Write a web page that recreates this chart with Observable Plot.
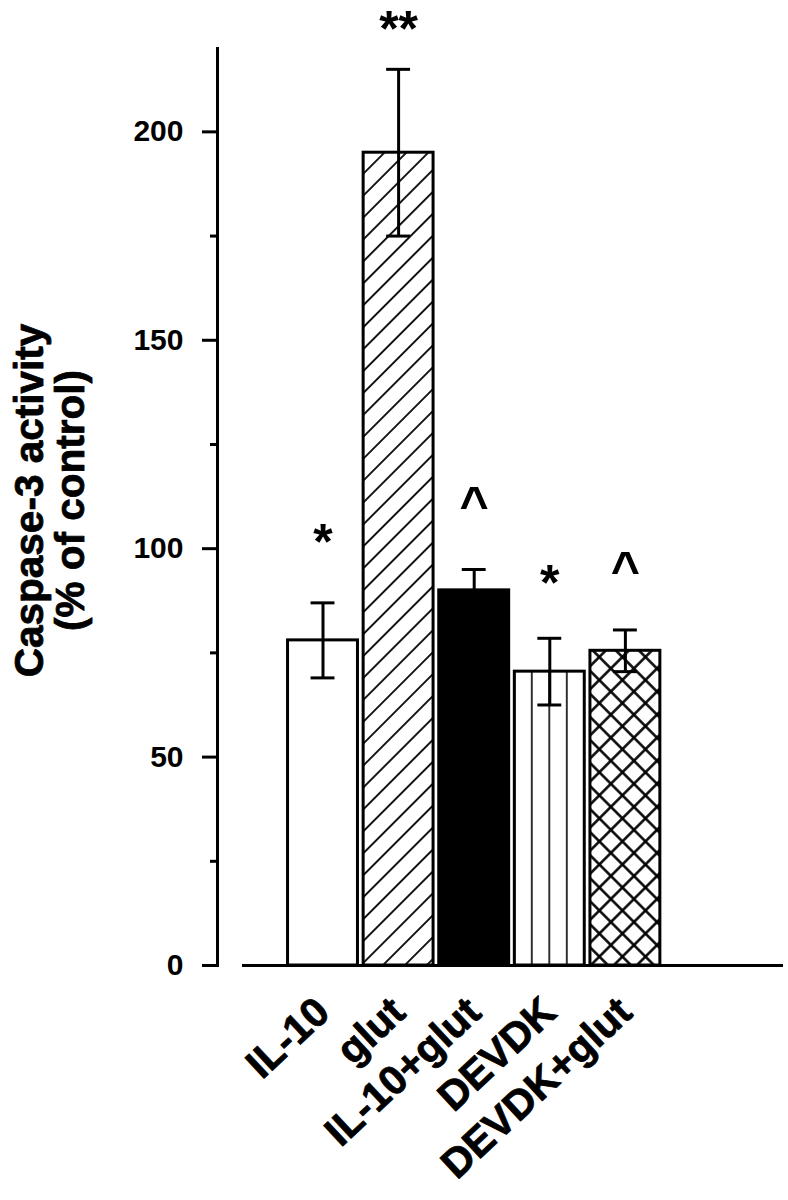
<!DOCTYPE html>
<html><head><meta charset="utf-8">
<script src="https://cdn.jsdelivr.net/npm/d3@7"></script>
<script src="https://cdn.jsdelivr.net/npm/@observablehq/plot@0.6"></script>
<style>body{margin:0;background:#fff}</style>
</head><body>
<div id="chart"></div>
<script>
const categories = ["IL-10", "glut", "IL-10+glut", "DEVDK", "DEVDK+glut"];
const means = [78, 195, 90, 70.5, 75.5];
const errors = [9, 20, 5, 8, 5];
const signs = ["*", "**", "^", "*", "^"];
const signLevels = [106, 229, 114.8, 96.2, 99.3];
const yTicks = [0, 50, 100, 150, 200];
const yMinorTicks = [25, 75, 125, 175];
const yLabel = "Caspase-3 activity\n(% of control)";
const barFills = ["white", "url(#hatch)", "black", "url(#vlines)", "url(#xhatch)"];

const rows = categories.map((c, i) => ({cat: c, mean: means[i], lo: means[i] - errors[i], hi: means[i] + errors[i], sign: signs[i], signY: signLevels[i]}));

const font = "'Liberation Sans', Arial, Helvetica, sans-serif";

const chart = Plot.plot({
  width: 788, height: 1200,
  marginLeft: 217, marginRight: 5, marginTop: 48, marginBottom: 235,
  style: {fontFamily: font, fontWeight: "bold", background: "white", color: "black"},
  x: {domain: categories, range: [284.7, 662.7], paddingInner: 0.075, paddingOuter: 0.0375, round: false, axis: null},
  y: {domain: [0, 220], axis: null},
  marks: [
    ...rows.map((r, i) => Plot.barY([r], {x: "cat", y: "mean", fill: barFills[i], stroke: "black", strokeWidth: 3})),
    Plot.ruleX(rows, {x: "cat", y1: "lo", y2: "hi", stroke: "black", strokeWidth: 3}),
    Plot.tickY(rows, {x: "cat", y: "hi", stroke: "black", strokeWidth: 3, insetLeft: 23, insetRight: 23}),
    Plot.tickY(rows, {x: "cat", y: "lo", stroke: "black", strokeWidth: 3, insetLeft: 23, insetRight: 23}),
    Plot.text(rows, {x: "cat", y: "signY", text: "sign", lineAnchor: "top", fontSize: 50, fontWeight: "bold"}),
    Plot.frame({anchor: "left", strokeWidth: 3}),
    Plot.ruleY([0], {insetLeft: 25, strokeWidth: 3}),
    Plot.axisY(yTicks, {tickSize: 15, tickPadding: 19, fontSize: 30, fontWeight: "bold", strokeWidth: 3, label: null, tickFormat: d => String(d)}),
    Plot.axisY(yMinorTicks, {tickSize: 7, strokeWidth: 3, label: null, tickFormat: () => ""}),
    Plot.text(categories, {x: d => d, frameAnchor: "bottom", dy: 40, rotate: -43, textAnchor: "end", lineAnchor: "middle", fontSize: 41, fontWeight: "bold", fill: "black", stroke: "black", strokeWidth: 0.8}),
    Plot.text([yLabel], {frameAnchor: "left", dx: -167.5, dy: -6.5, rotate: -90, textAnchor: "middle", lineAnchor: "middle", lineHeight: 1.03, fontSize: 40.5, fontWeight: "bold", fill: "black", stroke: "black", strokeWidth: 0.8})
  ]
});

// Patterns aligned to the bars via the chart's own x scale
const xs = chart.scale("x");
const bw = xs.bandwidth;
const devdkCenter = xs.apply("DEVDK") + bw / 2;
const vSpace = 17.5;
const defs = `<svg width="0" height="0" style="position:absolute">
<defs>
<pattern id="hatch" patternUnits="userSpaceOnUse" width="15.5" height="15.5" patternTransform="rotate(45)">
  <line x1="7.75" y1="-1" x2="7.75" y2="16.5" stroke="#000" stroke-width="1.8"/>
</pattern>
<pattern id="vlines" patternUnits="userSpaceOnUse" x="${devdkCenter - vSpace / 2}" y="0" width="${vSpace}" height="20">
  <line x1="${vSpace / 2}" y1="-1" x2="${vSpace / 2}" y2="21" stroke="#000" stroke-width="1.6"/>
</pattern>
<pattern id="xhatch" patternUnits="userSpaceOnUse" width="16.3" height="16.3" patternTransform="rotate(45)">
  <line x1="8.15" y1="-1" x2="8.15" y2="17.3" stroke="#000" stroke-width="2.5"/>
  <line x1="-1" y1="8.15" x2="17.3" y2="8.15" stroke="#000" stroke-width="2.5"/>
</pattern>
</defs></svg>`;
document.body.insertAdjacentHTML("afterbegin", defs);
document.getElementById("chart").appendChild(chart);
</script>
</body></html>
